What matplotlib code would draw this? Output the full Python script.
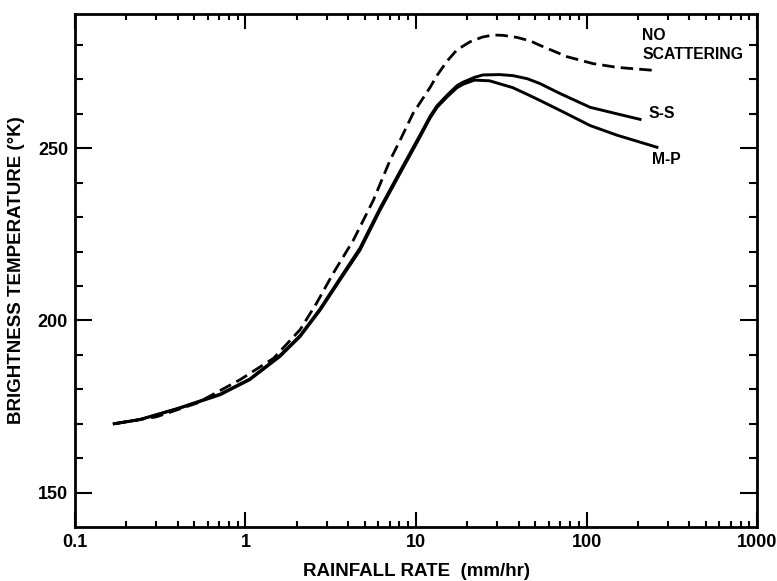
import matplotlib
matplotlib.use("Agg")
import matplotlib.pyplot as plt
from matplotlib.ticker import FixedLocator, FixedFormatter, NullFormatter

plt.rcParams['font.family'] = ['Liberation Sans', 'DejaVu Sans']
plt.rcParams['font.weight'] = 'bold'

# rainfall rate (mm/hr) vs brightness temperature (K)
mp_rate = [0.17, 0.24, 0.41, 0.71, 1.06, 1.59, 2.09, 2.74, 3.58, 4.69, 6.15, 8.06,
           10.3, 12.1, 13.3, 15.2, 17.4, 18.9, 22, 27, 37, 47, 53.3, 70, 105, 151, 259]
mp_temp = [170, 171.2, 174.5, 178.4, 182.8, 189.5, 195.3, 203, 211.7, 220.4, 232, 242.7,
           252.3, 258.8, 261.9, 264.9, 267.6, 268.6, 269.8, 269.6, 267.6, 265.2, 263.9, 261,
           256.6, 253.8, 250.3]

ss_rate = [0.17, 0.24, 0.41, 0.71, 1.06, 1.59, 2.09, 2.74, 3.58, 4.69, 6.15, 8.06,
           10.3, 12.1, 13.3, 15.2, 17.4, 18.9, 22, 24.7, 31, 37, 45, 53.3, 70, 105, 151, 206]
ss_temp = [170, 171.2, 174.6, 178.6, 183.0, 189.8, 195.6, 203.4, 212.2, 221.0, 232.6, 243.3,
           252.9, 259.3, 262.4, 265.4, 268.2, 269.2, 270.6, 271.3, 271.4, 271.1, 270.2, 268.8,
           265.9, 261.9, 260.0, 258.4]

ns_rate = [0.17, 0.3, 0.52, 0.93, 1.46, 2.09, 2.61, 3.27, 4.29, 5.62, 7.04, 8.06, 9.6,
           12.1, 13.3, 15.2, 17.4, 20.7, 24.5, 28.3, 32.4, 39.1, 46.7, 53.3, 76.9, 109, 151, 252]
ns_temp = [170, 172, 176, 182.8, 189, 197.3, 205, 213.7, 223.3, 234.9, 246.5, 252.3, 260.1,
           267.7, 271.2, 275.3, 278.6, 280.9, 282.3, 282.9, 282.8, 282.2, 281.2, 279.9, 276.6,
           274.6, 273.5, 272.6]

x_ticks = [0.1, 1, 10, 100, 1000]
x_labels = ['0.1', '1', '10', '100', '1000']
y_ticks = [150, 200, 250]

fig = plt.figure(figsize=(7.77, 5.81), dpi=100)
ax = fig.add_axes([0.0965, 0.0929, 0.8778, 0.8830])

ax.plot(ns_rate, ns_temp, color='black', lw=2.0, linestyle=(0, (4.5, 2.2)))
ax.plot(ss_rate, ss_temp, color='black', lw=2.1)
ax.plot(mp_rate, mp_temp, color='black', lw=2.1)

ax.set_xscale('log')
ax.set_xlim(0.1, 1000)
ax.set_ylim(140, 289)

ax.xaxis.set_major_locator(FixedLocator(x_ticks))
ax.xaxis.set_major_formatter(FixedFormatter(x_labels))
ax.xaxis.set_minor_formatter(NullFormatter())
ax.yaxis.set_major_locator(FixedLocator(y_ticks))
ax.yaxis.set_minor_locator(FixedLocator([v for v in range(150, 290, 10) if v not in y_ticks]))

ax.tick_params(which='both', direction='in', top=True, right=True, width=1.5,
               labelsize=13, pad=5)
ax.tick_params(axis='x', which='major', length=11)
ax.tick_params(axis='x', which='minor', length=4)
ax.tick_params(axis='y', which='major', length=12)
ax.tick_params(axis='y', which='minor', length=6)
for lab in ax.get_xticklabels() + ax.get_yticklabels():
    lab.set_fontweight('bold')

for sp in ax.spines.values():
    sp.set_linewidth(2.0)

ax.set_xlabel('RAINFALL RATE  (mm/hr)', fontsize=13.5, fontweight='bold', labelpad=9)
ax.set_ylabel('BRIGHTNESS TEMPERATURE (°K)', fontsize=13.5, fontweight='bold', labelpad=9)

ax.text(212, 280, 'NO\nSCATTERING', fontsize=11.3, fontweight='bold', ha='left', va='center',
        linespacing=1.35)
ax.text(230, 260.1, 'S-S', fontsize=11.3, fontweight='bold', ha='left', va='center')
ax.text(242, 246.8, 'M-P', fontsize=11.3, fontweight='bold', ha='left', va='center')

fig.savefig('out.png', dpi=100)
